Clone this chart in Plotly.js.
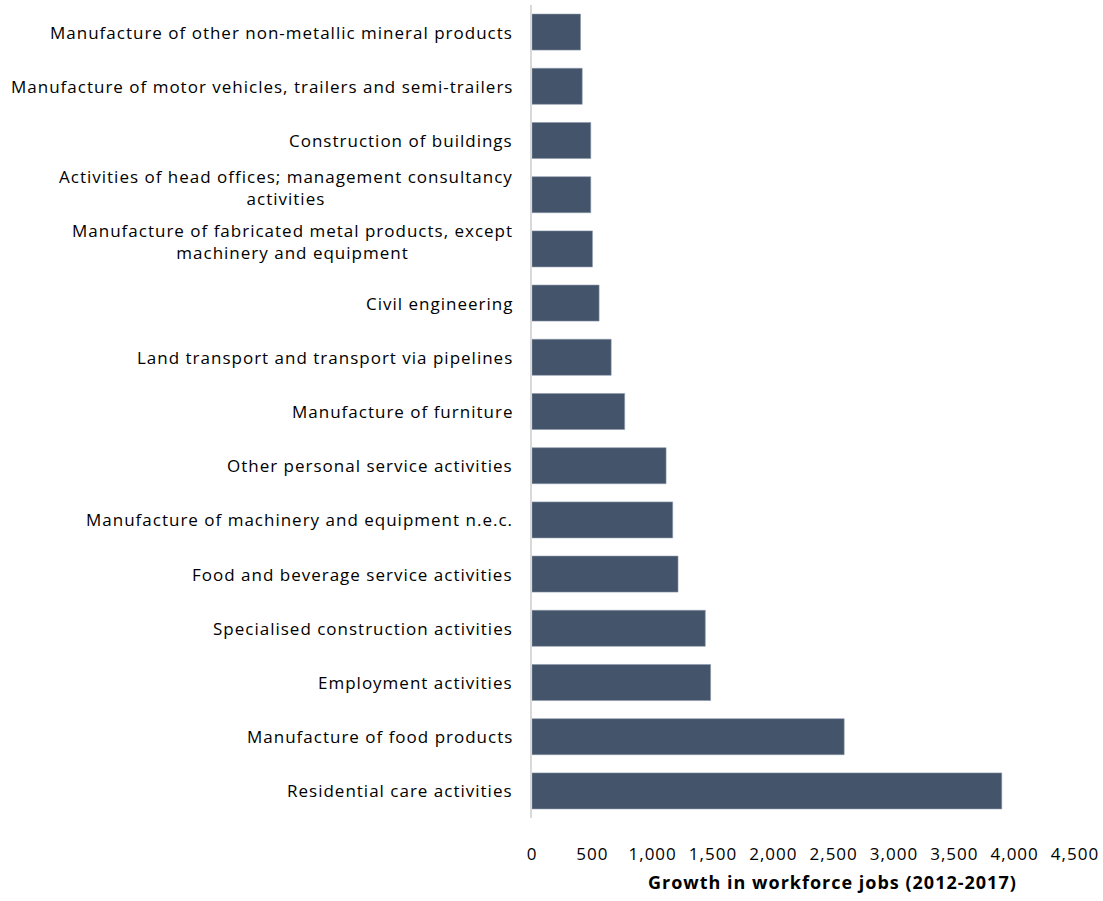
<!DOCTYPE html>
<html>
<head>
<meta charset="utf-8">
<script src="https://cdn.plot.ly/plotly-3.0.1.min.js"></script>
<style>
html,body{margin:0;padding:0;background:#fff;}
#chart{width:1103px;height:901px;}
svg text{letter-spacing:1px;}
</style>
</head>
<body>
<div id="chart"></div>
<script>
// Categories, top to bottom as shown
const categories = [
  "Manufacture of other non-metallic mineral products",
  "Manufacture of motor vehicles, trailers and semi-trailers",
  "Construction of buildings",
  "Activities of head offices; management consultancy<br>activities",
  "Manufacture of fabricated metal products, except<br>machinery and equipment",
  "Civil engineering",
  "Land transport and transport via pipelines",
  "Manufacture of furniture",
  "Other personal service activities",
  "Manufacture of machinery and equipment n.e.c.",
  "Food and beverage service activities",
  "Specialised construction activities",
  "Employment activities",
  "Manufacture of food products",
  "Residential care activities"
];
const growthJobs = [402, 416, 487, 487, 501, 556, 656, 768, 1111, 1166, 1210, 1436, 1480, 2587, 3893];
const xTickValues = [0, 500, 1000, 1500, 2000, 2500, 3000, 3500, 4000, 4500];
const xTickLabels = ["0", "500", "1,000", "1,500", "2,000", "2,500", "3,000", "3,500", "4,000", "4,500"];
const xTitle = "Growth in workforce jobs (2012-2017)";

const FONT = "Open Sans, Lato, sans-serif";

const trace = {
  type: "bar",
  orientation: "h",
  y: categories,
  x: growthJobs,
  marker: { color: "#44546A", line: { color: "#8a97aa", width: 0.6 } },
  hoverinfo: "x+y"
};

const annotations = categories.map(c => ({
  xref: "paper", yref: "y",
  x: -0.0305, y: c,
  xanchor: "right", yanchor: "middle",
  align: "center",
  showarrow: false,
  text: c,
  yshift: c.indexOf("<br>") >= 0 ? 7 : 0,
  font: { family: FONT, size: 17, color: "#000" }
}));
annotations.push({
  xref: "paper", yref: "paper",
  x: 0.553, y: -0.079,
  xanchor: "center", yanchor: "middle",
  showarrow: false,
  text: "<b>" + xTitle + "</b>",
  font: { family: FONT, size: 18, color: "#000" }
});

const layout = {
  width: 1103, height: 901,
  margin: { l: 531.5, r: 28, t: 5.4, b: 83.2 },
  paper_bgcolor: "#fff", plot_bgcolor: "#fff",
  showlegend: false,
  bargap: 0.335,
  font: { family: FONT, size: 17, color: "#000" },
  xaxis: {
    range: [0, 4500],
    tickvals: xTickValues,
    ticktext: xTickLabels,
    showgrid: false, zeroline: false, showline: false,
    ticks: "outside", ticklen: 21, tickcolor: "rgba(0,0,0,0)",
    tickfont: { family: FONT, size: 17, color: "#000" }
  },
  yaxis: {
    type: "category",
    autorange: "reversed",
    showticklabels: false,
    showgrid: false, zeroline: false,
    showline: true, linecolor: "#d9d9d9", linewidth: 2,
    ticks: ""
  },
  annotations: annotations
};

Plotly.newPlot("chart", [trace], layout, { displayModeBar: false, staticPlot: true });
</script>
</body>
</html>
